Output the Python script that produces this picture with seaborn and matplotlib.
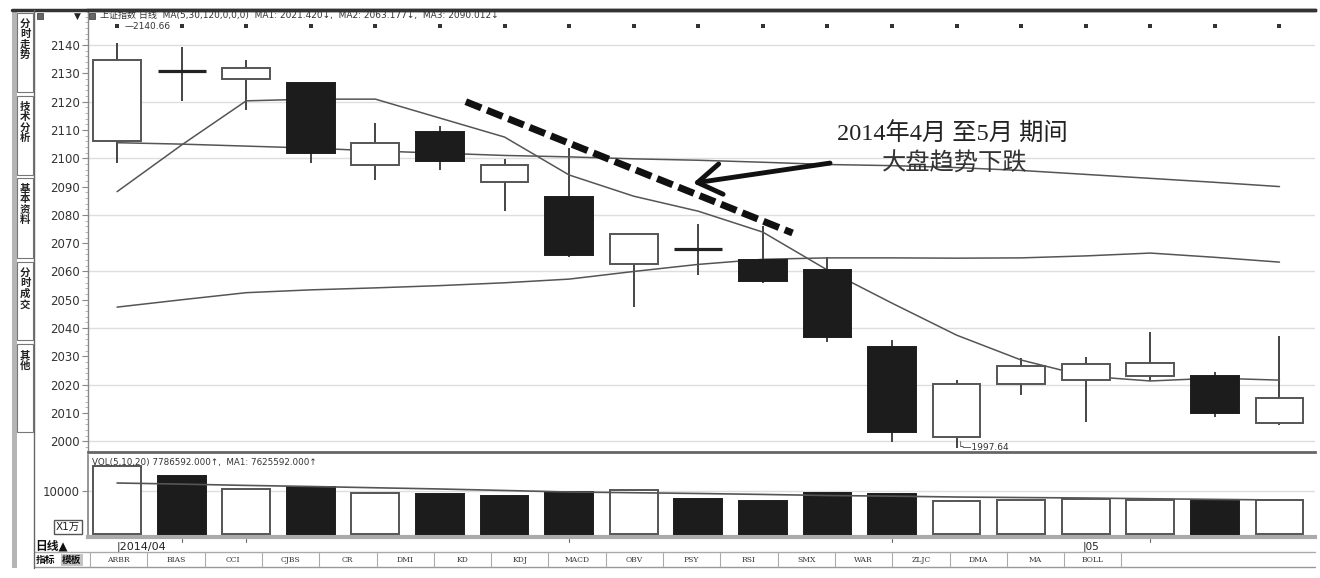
import numpy as np
import pandas as pd
import matplotlib
matplotlib.use("Agg")
import matplotlib.pyplot as plt
import matplotlib.transforms as mtransforms
from matplotlib.patches import Rectangle
from matplotlib.ticker import MultipleLocator
import seaborn as sns

# 上证指数 日线, 2014/04 - 2014/05
opens = [2106.2, 2130.9, 2127.9, 2126.7, 2097.6, 2109.4, 2091.7, 2086.2, 2062.5, 2067.8,
         2064.0, 2060.5, 2033.3, 2001.6, 2020.2, 2021.6, 2023.0, 2023.0, 2006.3]
closes = [2134.9, 2130.9, 2131.8, 2101.8, 2105.4, 2099.1, 2097.8, 2065.8, 2073.1, 2067.8,
          2056.6, 2036.7, 2003.3, 2020.2, 2026.6, 2027.3, 2027.6, 2009.9, 2015.2]
highs = [2140.66, 2139.4, 2134.9, 2126.7, 2112.4, 2111.4, 2099.7, 2103.5, 2073.5, 2076.7,
         2076.0, 2065.2, 2035.8, 2021.6, 2029.4, 2029.8, 2038.6, 2024.4, 2037.2]
lows = [2098.2, 2120.3, 2117.0, 2098.3, 2092.3, 2095.8, 2081.3, 2065.2, 2047.3, 2058.7,
        2056.0, 2035.2, 1999.8, 1997.64, 2016.3, 2006.9, 2021.3, 2008.5, 2005.7]

ma5 = [2088.2, 2104.7, 2120.3, 2120.9, 2120.9, 2114.2, 2107.5, 2094.1, 2086.6, 2081.3,
       2073.9, 2060.5, 2048.8, 2037.5, 2028.7, 2023.0, 2021.3, 2022.3, 2021.6]
ma30 = [2105.5, 2105.0, 2104.3, 2103.6, 2102.6, 2101.8, 2101.0, 2100.5, 2099.8, 2099.3,
        2098.6, 2097.8, 2097.4, 2096.7, 2095.7, 2094.3, 2092.9, 2091.5, 2090.0]
ma120 = [2047.4, 2050.0, 2052.5, 2053.5, 2054.2, 2055.0, 2056.0, 2057.3, 2060.0, 2062.5,
         2064.3, 2064.8, 2064.8, 2064.7, 2064.8, 2065.5, 2066.5, 2065.0, 2063.3]

# 成交量 (x1万)
vol = [15800, 13500, 10500, 10900, 9500, 9300, 8840, 9840, 10230, 8070,
       7740, 9470, 9300, 7740, 7900, 8070, 7900, 7740, 7900]
vol_ma = [11860, 11600, 11300, 11050, 10750, 10470, 10120, 9770, 9600, 9420,
          9200, 8950, 8800, 8600, 8480, 8370, 8200, 8050, 7900]

week_ticks = [1, 2, 7, 12, 16]
may_start = 15

tabs = ["ARBR", "BIAS", "CCI", "CJBS", "CR", "DMI", "KD", "KDJ", "MACD", "OBV",
        "PSY", "RSI", "SMX", "WAR", "ZLJC", "DMA", "MA", "BOLL"]
side_tabs = ["分时走势", "技术分析", "基本资料", "分时成交", "其他"]

header = ("上证指数 日线  MA(5,30,120,0,0,0)  MA1: 2021.420↓,  MA2: 2063.177↓,  "
          "MA3: 2090.012↓")
vol_header = "VOL(5,10,20) 7786592.000↑,  MA1: 7625592.000↑"

W, H = 1320, 578


def fx(x):
    return x / W


def fy(y):
    return 1 - y / H


sns.set_theme(style="white")
plt.rcParams["font.family"] = ["DejaVu Sans", "Noto Sans CJK SC"]

df = pd.DataFrame({"open": opens, "close": closes, "high": highs, "low": lows,
                   "vol": vol})
df["idx"] = np.arange(len(df))
df["up"] = df["close"] > df["open"]
df["doji"] = (df["close"] - df["open"]).abs() < 0.3
df["vol_up"] = df["close"].diff().fillna(1) >= 0

fig = plt.figure(figsize=(13.2, 5.78), dpi=100)
fig.patch.set_facecolor("white")

xlim = (-0.45, 18.55)
bw = 0.74

# ---- main price panel
ax = fig.add_axes([fx(88), fy(452), fx(1315) - fx(88), (452 - 10) / H])
ax.set_xlim(*xlim)
ax.set_ylim(1996.2, 2152.4)
for v in range(2000, 2141, 20):
    ax.axhline(v, color="#dedede", lw=1, zorder=0)

ax.vlines(df["idx"], df["low"], df["high"], color="#444", lw=1.4, zorder=2)
body = df[~df["doji"]]
ax.bar(body["idx"], (body["close"] - body["open"]).abs(),
       bottom=body[["open", "close"]].min(axis=1), width=bw,
       color=np.where(body["up"], "white", "#1c1c1c"),
       edgecolor=np.where(body["up"], "#555", "#1c1c1c"), lw=1.4, zorder=3)
cross = df[df["doji"]]
ax.hlines(cross["close"], cross["idx"] - bw / 2, cross["idx"] + bw / 2,
          color="#222", lw=2.3, zorder=3)

for series in (ma5, ma30, ma120):
    sns.lineplot(x=df["idx"], y=series, ax=ax, color="#555", lw=1.1, zorder=2)

ax.scatter(df["idx"], np.full(len(df), 2146.7), marker="s", s=7, color="#333",
           zorder=4, linewidths=0)
ax.text(0.12, 2146.5, "—2140.66", fontsize=6.5, color="#333", va="center")
ax.text(13.02, 1997.9, "└—1997.64", fontsize=6.5, color="#333", va="center")

# trend annotation
ax.plot([5.40, 10.46], [2120.0, 2073.6], color="#111", lw=5,
        ls=(0, (2.4, 0.9)), dash_capstyle="butt", zorder=5)
ax.annotate("", xy=(8.92, 2091.2), xytext=(11.04, 2098.3),
            arrowprops=dict(arrowstyle="->,head_length=0.85,head_width=0.55",
                            lw=3.5, color="#111", mutation_scale=20,
                            shrinkA=0, shrinkB=0), zorder=5)
ax.text(12.93, 2108.6, "2014年4月 至5月 期间", ha="center", va="center",
        fontsize=17.5, color="#222",
        family=["Liberation Serif", "Noto Sans CJK SC"], zorder=5)
ax.text(12.97, 2098.0, "大盘趋势下跌", ha="center", va="center", fontsize=17.5,
        color="#333", family=["Noto Sans CJK SC"], zorder=5)

ax.set_xticks([])
ax.set_yticks(np.arange(2000, 2141, 10))
ax.set_yticklabels([str(v) for v in range(2000, 2141, 10)])
ax.yaxis.set_minor_locator(MultipleLocator(2))
ax.tick_params(axis="y", which="major", left=True, length=4, width=0.8,
               color="#888", labelsize=8.5, labelcolor="#333", pad=2)
ax.tick_params(axis="y", which="minor", left=True, length=2, width=0.6,
               color="#aaa")
ax.set_ylabel("")
ax.set_xlabel("")
ax.spines["right"].set_visible(False)
ax.spines["top"].set_color("#333")
ax.spines["top"].set_linewidth(2.5)
ax.spines["bottom"].set_color("#666")
ax.spines["bottom"].set_linewidth(2)
ax.spines["left"].set_color("#888")
ax.spines["left"].set_linewidth(1)

# ---- volume panel
axv = fig.add_axes([fx(88), fy(537), fx(1315) - fx(88), (537 - 455) / H])
axv.set_xlim(*xlim)
axv.set_ylim(-698, 18372)
axv.axhline(10000, color="#dedede", lw=1, zorder=0)
axv.bar(df["idx"], df["vol"], width=bw,
        color=np.where(df["vol_up"], "white", "#1c1c1c"),
        edgecolor=np.where(df["vol_up"], "#555", "#1c1c1c"), lw=1.4, zorder=3)
sns.lineplot(x=df["idx"], y=vol_ma, ax=axv, color="#555", lw=1.2, zorder=4)
axv.text(0.003, 0.96, vol_header, transform=axv.transAxes, fontsize=6.3,
         color="#333", va="top")
axv.set_xticks([])
axv.set_yticks([10000])
axv.set_yticklabels(["10000"])
axv.tick_params(axis="y", left=True, length=4, width=0.8, color="#888",
                labelsize=8.5, labelcolor="#333", pad=2)
axv.set_ylabel("")
axv.set_xlabel("")
axv.spines["right"].set_visible(False)
axv.spines["top"].set_visible(False)
axv.spines["left"].set_color("#888")
axv.spines["bottom"].set_color("#aaa")
axv.spines["bottom"].set_linewidth(3)

fig.text(fx(68), fy(527), "X1万", ha="center", va="center", fontsize=7.5,
         color="#222", bbox=dict(boxstyle="square,pad=0.15", fc="white",
                                 ec="#555", lw=1))

# ---- date row
trans = mtransforms.blended_transform_factory(axv.transData, fig.transFigure)
fig.text(fx(35), fy(546), "日线▲", fontsize=8.5, weight="bold", color="#111",
         va="center")
axv.text(0.0, fy(547), "|2014/04", transform=trans, fontsize=8, color="#222",
         va="center", ha="left", clip_on=False)
axv.text(may_start - 0.05, fy(547), "|05", transform=trans, fontsize=7.5,
         color="#222", va="center", ha="left", clip_on=False)
for i in week_ticks:
    axv.plot([i, i], [fy(539), fy(542)], transform=trans, color="#666", lw=0.8,
             clip_on=False)

# ---- tab row
fig.add_artist(plt.Line2D([fx(35), fx(1315)], [fy(552), fy(552)], color="#aaa",
                          lw=1))
fig.add_artist(plt.Line2D([fx(35), fx(1315)], [fy(567), fy(567)], color="#999",
                          lw=1))
fig.text(fx(46), fy(560), "指标", fontsize=7, weight="bold", ha="center",
         va="center", color="#111")
fig.text(fx(72), fy(560), "模板", fontsize=7, weight="bold", ha="center",
         va="center", color="#111",
         bbox=dict(boxstyle="square,pad=0.1", fc="#c4c4c4", ec="none"))
tab_w = 57.3
for k, name in enumerate(tabs):
    left = 90 + tab_w * k
    fig.text(fx(left + tab_w / 2), fy(560), name, fontsize=5.5, ha="center",
             va="center", color="#333", family="DejaVu Serif")
    fig.add_artist(plt.Line2D([fx(left), fx(left)], [fy(553), fy(566)],
                              color="#aaa", lw=0.8))
fig.add_artist(plt.Line2D([fx(90 + tab_w * len(tabs))] * 2, [fy(553), fy(566)],
                          color="#aaa", lw=0.8))

# ---- frame and left sidebar
fig.add_artist(plt.Line2D([fx(12), fx(1315)], [fy(10), fy(10)], color="#333",
                          lw=2.5))
fig.add_artist(plt.Line2D([fx(34), fx(34)], [fy(10), fy(568)], color="#666",
                          lw=1))
fig.add_artist(Rectangle((fx(12), fy(568)), fx(5), (568 - 10) / H,
                         transform=fig.transFigure, fc="#b5b5b5", ec="none"))
side_spans = [(13, 92), (96, 175), (178, 258), (262, 340), (344, 432)]
for (y0, y1), name in zip(side_spans, side_tabs):
    fig.add_artist(Rectangle((fx(17), fy(y1)), fx(16), (y1 - y0) / H,
                             transform=fig.transFigure, fc="white", ec="#777",
                             lw=0.8))
    fig.text(fx(25), fy(y0 + 6), "\n".join(name), fontsize=7.5, weight="bold",
             ha="center", va="top", color="#222", linespacing=1.05)

# header icons and text
for x0 in (37, 89):
    fig.add_artist(Rectangle((fx(x0), fy(19)), fx(6), 6 / H,
                             transform=fig.transFigure, fc="#666", ec="#333",
                             lw=0.5))
fig.text(fx(77), fy(16), "▼", fontsize=6.5, ha="center", va="center",
         color="#222")
fig.text(fx(100), fy(15), header, fontsize=6.5, va="center", color="#333")

fig.savefig("out.png", dpi=100)
